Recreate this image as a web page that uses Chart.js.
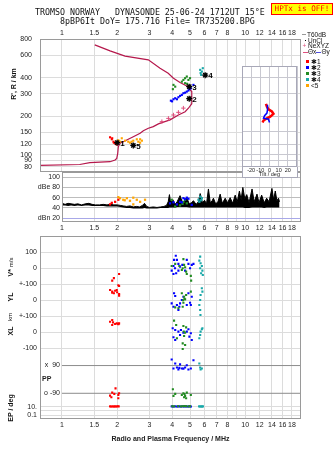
<!DOCTYPE html>
<html>
<head>
<meta charset="utf-8">
<title>Dynasonde ionogram</title>
<script src="https://cdn.jsdelivr.net/npm/chart.js@4.4.1/dist/chart.umd.min.js"></script>
<style>
  body { margin: 0; background: #fff; }
  #page { position: relative; width: 335px; height: 451px; overflow: hidden; font-family: "Liberation Sans", Arial, sans-serif; color: #111; }
  #page canvas { position: absolute; }
  .t { position: absolute; white-space: pre; line-height: 1; }
  .mono { font-family: "DejaVu Sans Mono", "Liberation Mono", monospace; font-size: 8.3px; }
  .v { position: absolute; white-space: pre; font-weight: bold; font-size: 7px; line-height: 1; transform: translate(-50%, -50%) rotate(-90deg); }
  .lg { position: absolute; font-size: 6.5px; line-height: 7px; white-space: pre; }
  .sw { position: absolute; }
  #hptx { position: absolute; left: 271px; top: 3px; width: 60px; height: 10px; border: 1px solid #f00; background: #ff0; color: #f00;
          font-family: "DejaVu Sans Mono", monospace; font-size: 7.6px; line-height: 10px; text-align: center; white-space: nowrap; }
</style>
</head>
<body>
<div id="page">
  <canvas id="rangeChart" width="335" height="173" style="left:0;top:0"></canvas>
  <canvas id="ampChart" width="335" height="62" style="left:0;top:172px"></canvas>
  <canvas id="miscChart" width="335" height="218" style="left:0;top:233px"></canvas>
  <canvas id="tiltChart" width="56" height="112" style="left:242px;top:66px"></canvas>

  <div class="t mono" style="left:35px;top:7.5px">TROMSO NORWAY   DYNASONDE 25-06-24 1712UT 15°E</div>
  <div class="t mono" style="left:60px;top:16.5px">8pBP6It DoY= 175.716 File= TR735200.BPG</div>
  <div id="hptx">HPTx is OFF!</div>

  <div class="v" style="left:12.5px;top:84px">R', R / km</div>
  <div class="v" style="left:9.5px;top:267px">V* <span style="font-size:6px;font-weight:normal">m/s</span></div>
  <div class="v" style="left:9.5px;top:297px">YL</div>
  <div class="v" style="left:9.5px;top:317px;font-size:6px;font-weight:normal">km</div>
  <div class="v" style="left:9.5px;top:331px">XL</div>
  <div class="v" style="left:9.5px;top:408px">EP / deg</div>

  <!-- legend -->
  <div class="sw" style="left:302px;top:34px;width:4px;height:1px;background:#999"></div>
  <div class="lg" style="left:307px;top:30.5px">T60dB</div>
  <div class="sw" style="left:305px;top:40px;width:1px;height:1px;background:#000"></div>
  <div class="lg" style="left:308px;top:36.5px">UnCl</div>
  <div class="lg" style="left:302.5px;top:42px;color:#e0507e">+</div>
  <div class="lg" style="left:308px;top:42px">NeXYZ</div>
  <div class="sw" style="left:302.5px;top:51.5px;width:5px;height:1px;background:#e0507e"></div>
  <div class="lg" style="left:308px;top:48px">Θx</div>
  <div class="sw" style="left:316px;top:51.5px;width:5px;height:1px;background:#5050e0"></div>
  <div class="lg" style="left:321.5px;top:48px">Θy</div>
  <div class="sw" style="left:306px;top:60px;width:3px;height:3px;background:#f00"></div>
  <div class="lg" style="left:311px;top:58px">✱1</div>
  <div class="sw" style="left:306px;top:66px;width:3px;height:3px;background:#00f"></div>
  <div class="lg" style="left:311px;top:64px">✱2</div>
  <div class="sw" style="left:306px;top:72px;width:3px;height:3px;background:#228b22"></div>
  <div class="lg" style="left:311px;top:70px">✱3</div>
  <div class="sw" style="left:306px;top:78px;width:3px;height:3px;background:#1aa8a8"></div>
  <div class="lg" style="left:311px;top:76px">✱4</div>
  <div class="sw" style="left:306px;top:84px;width:3px;height:3px;background:#ffa500"></div>
  <div class="lg" style="left:311px;top:81.5px">&lt;5</div>
</div>

<script>
// ---- frequency / height axes ----
const freqTicks = [1, 1.5, 2, 3, 4, 5, 6, 7, 8, 9, 10, 12, 14, 16, 18];
const freqLabels = ['1', '1.5', '2', '3', '4', '5', '6', '7', '8', '', '10', '12', '14', '16', '18'];
const freqLabelsAmp = ['1', '1.5', '2', '3', '4', '5', '6', '7', '8', '9', '10', '12', '14', '16', '18'];
const heightTicks = [80, 90, 100, 120, 150, 200, 300, 400, 600, 800];
const ampTicks = [20, 40, 60, 80, 100];
const ampLabels = ['dBn 20', '40', '60', 'dBe 80', '100'];
const tiltTicks = [-30, -20, -10, 0, 10, 20, 30];

// ---- true height profile (MHz, km) ----
const profileFreq = [0.76, 1.25, 1.42, 1.83, 1.95, 1.99, 2.015, 2.03, 2.075, 2.16, 2.30, 2.45, 2.67, 2.78, 2.96, 3.15, 3.36, 3.51, 3.89,
  4.32, 4.70, 4.90, 5.11, 5.11, 4.80, 4.41, 4.06, 3.80, 3.43, 2.96, 2.21, 1.83, 1.51];
const profileHeight = [82.4, 83.7, 86.5, 88.0, 90.8, 93.5, 102.3, 115.3, 122.7, 126.2, 131.8, 138, 146.8, 153.9, 160.7, 165.5, 173.8, 177.8, 187,
  204, 216.6, 230.5, 250, 311, 344, 366, 396, 433, 474, 551, 589, 648, 722];
const nexyzFreq = [3.51, 3.81, 4.06, 4.32, 4.60];
const nexyzHeight = [181, 192, 204, 214, 231];

// ---- echo ranges R' (MHz, km) ----
const rangeRed = [[1.83, 136.6], [1.87, 131.8], [1.91, 126.2], [1.95, 122.7], [1.88, 134.2], [1.92, 123.9], [1.99, 120]];
const rangeOrange = [[2.03, 129.5], [2.075, 126.2], [2.12, 134.2], [2.21, 128.5], [2.30, 126.2], [2.35, 123.9], [2.40, 126.2],
  [2.45, 128.5], [2.56, 131.8], [2.61, 126.2], [2.67, 123.9], [2.67, 131.8], [2.73, 128.5]];
const rangeBlue = [[3.93, 264], [3.99, 261], [4.06, 271], [4.15, 276], [4.24, 271], [4.32, 281], [4.41, 288], [4.51, 293], [4.60, 302],
  [4.70, 305], [4.80, 311], [4.90, 317], [4.96, 325], [5.05, 330], [5.22, 351]];
const rangeGreen = [[4.06, 351], [4.15, 340], [4.03, 325], [4.51, 372], [4.60, 384], [4.70, 396], [4.80, 408], [4.90, 384],
  [5.00, 396], [4.70, 362], [4.82, 358]];
const rangeCyan = [[5.68, 460], [5.80, 446], [5.71, 434], [5.87, 474], [5.75, 420]];
const markFreq = [2.0, 4.95, 4.95, 6.05, 2.45];
const markHeight = [124, 274, 340, 418, 118];
const markText = ['1', '2', '3', '4', '5'];

// ---- tilt (deg, km) ----
const tiltXDeg = [-3.9, -2.8, -1.1, 2.6, 4.3, 0.8, -2.8, -6.5, -7.6];
const tiltXHeight = [249, 237, 226, 217, 208, 198, 192, 184.5, 178];
const tiltYDeg = [-2.2, -2.2, -2.8, -5.4, -6.5, -1.1, 0];
const tiltYHeight = [245, 223, 211, 201, 192, 189, 178];

// ---- amplitude panel (MHz, dB) ----
const noiseFreq = [1.00, 1.04, 1.08, 1.12, 1.17, 1.22, 1.28, 1.34, 1.40, 1.46, 1.52, 1.60, 1.68, 1.76, 1.84, 1.92, 2.00, 2.08, 2.16, 2.25,
  2.35, 2.45, 2.55, 2.65, 2.75, 2.82, 2.90, 3.00, 3.15, 3.30, 3.45, 3.60, 3.72, 3.80, 3.86, 3.92, 4.03, 4.14, 4.25, 4.41, 4.55, 4.68,
  4.80, 4.95, 5.08, 5.22, 5.40, 5.55, 5.68, 5.85, 6.00, 6.15, 6.30, 6.45, 6.60, 6.71, 6.90, 7.10, 7.30, 7.50, 7.78, 8.00, 8.28, 8.55,
  8.82, 9.05, 9.30, 9.50, 9.71, 9.95, 10.2, 10.5, 10.9, 11.2, 11.6, 11.9, 12.3, 12.7, 13.1, 13.5, 14.0, 14.3, 14.6, 14.9, 15.2, 15.4];
const noiseHigh = [49, 47, 49, 48, 47, 48, 46, 48, 49, 47, 46, 46, 47, 46, 47, 46, 46, 45, 44, 43,
  44, 42, 43, 42, 45, 49, 43, 41, 42, 41, 42, 43, 45, 52, 66, 50, 56, 47, 52, 64, 50, 55,
  60, 48, 50, 54, 47, 52, 68, 50, 55, 48, 77, 50, 54, 59, 48, 52, 67, 49, 59, 50, 60, 49,
  65, 52, 73, 56, 80, 58, 66, 50, 77, 52, 67, 50, 65, 50, 59, 52, 78, 56, 73, 54, 59, 52];
const noiseLow = [45, 45, 44, 45, 44, 45, 44, 45, 45, 44, 44, 44, 44, 43, 43, 43, 43, 42, 41, 40,
  40, 39, 39, 39, 39, 40, 39, 39, 39, 39, 40, 40, 40, 40, 41, 41, 41, 41, 42, 42, 42, 42,
  42, 41, 41, 41, 41, 41, 41, 41, 41, 41, 41, 41, 41, 41, 41, 41, 41, 41, 41, 41, 41, 41,
  41, 41, 41, 41, 41, 40, 40, 40, 41, 41, 41, 41, 41, 40, 41, 41, 41, 41, 41, 41, 41, 41];
const ampRed = [[1.83, 47], [1.87, 50], [1.95, 52], [2.03, 56]];
const ampOrange = [[2.03, 61], [2.075, 59], [2.16, 56], [2.20, 55], [2.26, 59], [2.35, 54], [2.45, 60], [2.45, 47], [2.56, 56], [2.67, 52], [2.84, 56]];
const ampBlue = [[3.89, 49], [4.06, 51], [4.24, 47], [4.41, 52], [4.51, 51], [4.60, 59], [4.70, 57], [4.80, 60], [4.90, 58], [5.11, 46]];
const ampGreen = [[3.97, 56], [4.15, 43], [4.41, 45], [4.55, 48], [4.60, 52], [4.70, 56], [4.80, 49]];
const ampCyan = [[5.56, 56], [5.62, 52], [5.68, 62], [5.75, 55], [5.80, 59]];

// ---- lower panel: V* (m/s), YL / XL (km), PP (deg), EP (deg) ----
const vRed = [[2.05, -36], [1.92, -62], [1.88, -77]];
const ylRed = [[2.03, 95], [2.05, 89], [1.83, 64], [1.88, 48], [1.95, 60], [1.99, 64], [2.00, 50], [2.05, 39], [2.05, 29], [1.92, 44], [1.88, 54]];
const xlRed = [[1.88, 77], [1.83, 66], [1.90, 62], [1.99, 56], [2.03, 50], [1.95, 52], [2.05, 56], [1.88, 46], [2.03, 53]];
const ppRed = [[1.96, -58], [1.88, -86], [1.83, -105], [2.03, -101], [1.93, -94], [1.86, -116], [2.03, -122], [2.05, -90]];
const epRed = [[1.83, 12], [1.86, 11], [1.89, 12], [1.92, 11], [1.95, 12], [1.98, 11], [2.01, 13], [2.04, 12]];

const vBlue = [[4.18, 77], [4.09, 52], [4.06, 14], [3.97, -15], [4.14, 0], [4.32, 27], [4.41, 10], [4.54, 21], [4.80, 52], [4.90, 27],
  [5.00, 0], [5.11, 21], [5.22, 27], [4.70, -15], [4.32, -15], [4.24, 52], [4.20, -31], [4.06, -36]];
const ylBlue = [[4.09, 44], [4.15, 27], [3.97, -19], [4.06, -40], [4.24, -29], [4.32, -61], [4.37, -40], [4.51, 2], [4.60, 22], [4.90, 44],
  [5.00, -15], [5.05, -29], [4.80, -29], [5.11, 22], [4.41, -19]];
const xlBlue = [[4.02, 25], [4.15, 14], [4.32, 4], [4.46, 14], [4.60, -2], [4.80, 4], [4.90, 19], [5.05, -6], [4.96, -27], [4.15, -48],
  [4.06, -31], [4.41, -17], [5.11, -48]];
const ppBlue = [[3.97, 129], [4.15, 103], [4.06, 71], [4.24, 77], [4.32, 64], [4.51, 71], [4.70, 77], [4.90, 64], [5.05, 71], [5.22, 124],
  [4.41, 98], [4.80, 92], [4.60, 70], [4.37, 75]];
const epBlue = [[3.97, 12], [4.05, 11], [4.15, 12], [4.25, 11], [4.35, 12], [4.45, 11], [4.55, 12], [4.65, 11], [4.75, 12], [4.85, 11], [4.95, 12], [5.05, 11]];

const vGreen = [[3.97, 14], [4.60, 56], [4.64, 21], [4.56, 0], [4.70, 6], [4.51, -11], [4.76, -21], [4.80, -36], [5.05, -48], [5.07, -77], [4.15, 27], [4.37, 14]];
const ylGreen = [[4.51, 44], [4.64, 22], [4.70, 6], [4.60, -15], [4.56, -40], [4.15, -44], [4.32, -50], [4.76, 33], [5.05, 54], [4.66, 10], [4.58, 0]];
const xlGreen = [[4.09, 73], [4.20, 46], [4.60, 39], [4.70, -2], [4.64, -23], [4.56, -69], [4.70, -79], [4.56, -104], [4.76, 31], [4.24, -37], [4.62, 5]];
const ppGreen = [[4.03, -64], [4.15, -94], [4.06, -107], [4.60, -90], [4.70, -107], [4.51, -101], [4.80, -86], [5.05, -101], [4.64, -116], [4.76, -122], [4.66, -95]];
const epGreen = [[4.00, 13], [4.10, 12], [4.30, 13], [4.45, 12], [4.55, 13], [4.65, 14], [4.75, 13], [4.90, 12], [5.00, 13]];

const vCyan = [[5.62, 47], [5.71, 31], [5.80, 14], [5.68, 0], [5.84, -15], [5.75, -31], [5.87, -42], [5.68, 72]];
const ylCyan = [[5.80, 75], [5.84, 54], [5.71, 33], [5.68, 2], [5.62, -29], [5.68, -61], [5.70, -92]];
const xlCyan = [[5.80, 19], [5.71, 4], [5.68, -17], [5.62, -37], [5.84, 25]];
const ppCyan = [[5.62, 103], [5.68, 77], [5.80, 71], [5.71, 64]];
const epCyan = [[5.60, 12], [5.68, 11], [5.75, 12], [5.82, 11], [5.88, 12]];

const ppLines = [90, -90];

// ---- colours ----
const RED = '#ff0000', BLUE = '#0000ff', GREEN = '#228b22', CYAN = '#1aa8a8', ORANGE = '#ffa500';
const GRID = '#dcdcdc', FRAME = '#9a9a9a';
const FONT = '"Liberation Sans", Arial, sans-serif';

Chart.defaults.font.family = FONT;
Chart.defaults.font.size = 7;
Chart.defaults.color = '#222';
Chart.defaults.animation = false;
Chart.defaults.layout.autoPadding = false;
Chart.defaults.plugins.legend.display = false;
Chart.defaults.plugins.tooltip.enabled = false;

function xy(pairs) {
  return pairs.map(p => ({ x: p[0], y: p[1] }));
}
function zipXY(xs, ys) {
  return xs.map((x, i) => ({ x: x, y: ys[i] }));
}
function dots(pairs, color, axis, r) {
  return {
    data: xy(pairs), showLine: false, yAxisID: axis,
    pointStyle: 'rect', pointRadius: r || 1.5, pointBorderWidth: 0,
    pointBackgroundColor: color, borderColor: color
  };
}

// fixed axis thickness, and no extra room reserved for the end labels
function pinWidth(w) {
  return s => { s.width = w; s.paddingTop = 0; s.paddingBottom = 0; s.paddingLeft = 0; s.paddingRight = 0; };
}
function pinHeight(h) {
  return s => { s.height = h; s.paddingTop = 0; s.paddingBottom = 0; s.paddingLeft = 0; s.paddingRight = 0; };
}

// outline round the plot area
const frame = {
  id: 'frame',
  afterDraw(chart, args, opts) {
    const a = chart.chartArea, ctx = chart.ctx;
    ctx.save();
    ctx.strokeStyle = opts.color || FRAME;
    ctx.lineWidth = 1;
    ctx.strokeRect(Math.round(a.left) + 0.5, Math.round(a.top) + 0.5, Math.round(a.right - a.left) - 1, Math.round(a.bottom - a.top) - 1);
    ctx.restore();
  }
};

// numbers next to the leading-edge marks
const markNumbers = {
  id: 'markNumbers',
  afterDatasetsDraw(chart) {
    const ctx = chart.ctx, x = chart.scales.x, y = chart.scales.y;
    ctx.save();
    ctx.font = 'bold 8px ' + FONT;
    ctx.fillStyle = '#000';
    ctx.textBaseline = 'middle';
    markFreq.forEach((f, i) => {
      ctx.fillText(markText[i], x.getPixelForValue(f) + 3, y.getPixelForValue(markHeight[i]) + 1);
    });
    ctx.restore();
  }
};

// labels of the polarisation strip
const ppLabels = {
  id: 'ppLabels',
  afterDraw(chart) {
    const ctx = chart.ctx, s = chart.scales.yP;
    ctx.save();
    ctx.font = '7px ' + FONT;
    ctx.fillStyle = '#222';
    ctx.textBaseline = 'middle';
    ctx.textAlign = 'right';
    ctx.fillText('x  90', 60, s.getPixelForValue(90));
    ctx.fillText('o -90', 60, s.getPixelForValue(-90));
    ctx.textAlign = 'left';
    ctx.font = 'bold 7px ' + FONT;
    ctx.fillText('PP', 42, s.getPixelForValue(2));
    ctx.restore();
  }
};

// white card behind the tilt inset
const insetCard = {
  id: 'insetCard',
  beforeDraw(chart) {
    const ctx = chart.ctx;
    ctx.save();
    ctx.fillStyle = '#fff';
    ctx.fillRect(0, 0, chart.width, chart.height);
    ctx.strokeStyle = '#a8a8b8';
    ctx.strokeRect(0.5, 0.5, chart.width - 1, chart.height - 1);
    ctx.restore();
  }
};

function freqAxis(position, min, labels, height) {
  return {
    type: 'logarithmic', position: position, min: min, max: 20.17,
    afterBuildTicks: s => { s.ticks = freqTicks.map(v => ({ value: v })); },
    afterFit: pinHeight(height),
    ticks: { autoSkip: false, maxRotation: 0, minRotation: 0, padding: 2, callback: (v, i) => labels[i] },
    grid: { color: GRID, drawTicks: false },
    border: { display: false }
  };
}

// ---- range panel ----
new Chart(document.getElementById('rangeChart'), {
  type: 'line',
  data: {
    datasets: [
      {
        data: zipXY(markFreq, markHeight), showLine: false, pointStyle: 'star', pointRadius: 3,
        pointBorderWidth: 1.3, pointBorderColor: '#000', pointBackgroundColor: '#000'
      },
      dots(rangeRed, RED, 'y'),
      dots(rangeOrange, ORANGE, 'y'),
      dots(rangeCyan, CYAN, 'y'),
      dots(rangeGreen, GREEN, 'y'),
      dots(rangeBlue, BLUE, 'y'),
      {
        data: zipXY(nexyzFreq, nexyzHeight), showLine: false, pointStyle: 'cross', pointRadius: 2.2,
        pointBorderWidth: 1, pointBorderColor: '#e0507e'
      },
      {
        data: zipXY(profileFreq, profileHeight), borderColor: '#b5174b', borderWidth: 1.2,
        pointRadius: 0, tension: 0, fill: false
      }
    ]
  },
  options: {
    responsive: false, devicePixelRatio: 1,
    layout: { padding: { left: 0, right: 34, top: 0, bottom: 1 } },
    plugins: { frame: { color: FRAME } },
    scales: {
      x: freqAxis('top', 0.7585, freqLabels, 39),
      y: {
        type: 'logarithmic', min: 73.1, max: 802,
        afterBuildTicks: s => { s.ticks = heightTicks.map(v => ({ value: v })); },
        afterFit: pinWidth(40),
        ticks: { padding: 8, autoSkip: false, callback: v => String(v) },
        grid: { color: GRID, drawTicks: false },
        border: { display: false }
      }
    }
  },
  plugins: [frame, markNumbers]
});

// ---- amplitude panel ----
new Chart(document.getElementById('ampChart'), {
  type: 'line',
  data: {
    datasets: [
      dots(ampRed, RED, 'y', 1.6),
      dots(ampOrange, ORANGE, 'y', 1.6),
      dots(ampCyan, CYAN, 'y', 1.6),
      dots(ampBlue, BLUE, 'y', 1.6),
      dots(ampGreen, GREEN, 'y', 1.6),
      { data: zipXY(noiseFreq, noiseLow), borderWidth: 0, pointRadius: 0, fill: false, borderColor: '#000' },
      {
        data: zipXY(noiseFreq, noiseHigh), borderColor: '#000', borderWidth: 1, pointRadius: 0,
        fill: '-1', backgroundColor: '#000'
      }
    ]
  },
  options: {
    responsive: false, devicePixelRatio: 1,
    layout: { padding: { left: 0, right: 34, top: 0, bottom: 0 } },
    plugins: { frame: { color: FRAME } },
    scales: {
      x: freqAxis('bottom', 1, freqLabelsAmp, 12),
      y: {
        type: 'linear', min: 12.7, max: 110,
        afterBuildTicks: s => { s.ticks = ampTicks.map(v => ({ value: v })); },
        afterFit: pinWidth(62),
        ticks: { padding: 2, autoSkip: false, callback: (v, i) => ampLabels[i] },
        grid: { color: c => (c.tick && c.tick.value === 20 ? '#a8a8e8' : '#bdbdbd'), drawTicks: false },
        border: { display: false }
      }
    }
  },
  plugins: [frame]
});

// ---- velocity / location / polarisation panel ----
function strip(min, max, weight, order, tickVals, labelFn) {
  return {
    type: 'linear', position: 'left', stack: 'misc', stackWeight: weight, weight: order,
    min: min, max: max,
    afterBuildTicks: s => { s.ticks = tickVals.map(v => ({ value: v })); },
    afterFit: pinWidth(40),
    ticks: { padding: 3, autoSkip: false, callback: labelFn },
    grid: { color: GRID, drawTicks: false },
    border: { display: false }
  };
}

const miscSets = [
  dots(vRed, RED, 'yV'), dots(ylRed, RED, 'yY'), dots(xlRed, RED, 'yX'), dots(ppRed, RED, 'yP'), dots(epRed, RED, 'yE'),
  dots(vCyan, CYAN, 'yV'), dots(ylCyan, CYAN, 'yY'), dots(xlCyan, CYAN, 'yX'), dots(ppCyan, CYAN, 'yP'), dots(epCyan, CYAN, 'yE'),
  dots(vGreen, GREEN, 'yV'), dots(ylGreen, GREEN, 'yY'), dots(xlGreen, GREEN, 'yX'), dots(ppGreen, GREEN, 'yP'), dots(epGreen, GREEN, 'yE'),
  dots(vBlue, BLUE, 'yV'), dots(ylBlue, BLUE, 'yY'), dots(xlBlue, BLUE, 'yX'), dots(ppBlue, BLUE, 'yP'), dots(epBlue, BLUE, 'yE')
];
ppLines.forEach(v => {
  miscSets.push({ data: [{ x: 1, y: v }, { x: 20.17, y: v }], yAxisID: 'yP', borderColor: '#8c8c8c', borderWidth: 1, pointRadius: 0 });
});

new Chart(document.getElementById('miscChart'), {
  type: 'line',
  data: { datasets: miscSets },
  options: {
    responsive: false, devicePixelRatio: 1,
    layout: { padding: { left: 0, right: 34, top: 3, bottom: 0 } },
    plugins: { frame: { color: FRAME } },
    scales: {
      x: Object.assign(freqAxis('bottom', 0.7585, freqLabels, 32), {
        title: { display: true, text: 'Radio and Plasma Frequency / MHz', font: { size: 7, weight: 'bold' }, padding: { top: 0, bottom: 8 } }
      }),
      yV: strip(-100, 200, 48.3, 5, [-100, 0, 100], v => (v === -100 ? '+-100' : String(v))),
      yY: strip(-100, 100, 32, 4, [-100, 0], v => (v === -100 ? '+-100' : '0')),
      yX: strip(-150, 100, 40, 3, [-100, 0], v => String(v)),
      yP: {
        type: 'linear', position: 'left', stack: 'misc', stackWeight: 44.7, weight: 2, min: -140, max: 150,
        afterFit: pinWidth(40),
        ticks: { display: false }, grid: { display: false }, border: { display: false }
      },
      yE: {
        type: 'logarithmic', position: 'left', stack: 'misc', stackWeight: 18, weight: 1, min: 0.011, max: 236,
        afterBuildTicks: s => { s.ticks = [0.1, 1, 10].map(v => ({ value: v })); },
        afterFit: pinWidth(40),
        ticks: { padding: 3, autoSkip: false, callback: v => (v === 10 ? '10.' : v === 0.1 ? '0.1' : '') },
        grid: { color: GRID, drawTicks: false },
        border: { display: false }
      }
    }
  },
  plugins: [frame, ppLabels]
});

// ---- tilt inset ----
new Chart(document.getElementById('tiltChart'), {
  type: 'line',
  data: {
    datasets: [
      { data: zipXY(tiltYDeg, tiltYHeight), borderColor: BLUE, borderWidth: 1.5, pointRadius: 0 },
      { data: zipXY(tiltXDeg, tiltXHeight), borderColor: RED, borderWidth: 2.5, pointRadius: 0 }
    ]
  },
  options: {
    responsive: false, devicePixelRatio: 1,
    layout: { padding: { left: 0, right: 1, top: 0, bottom: 0 } },
    plugins: { frame: { color: '#a8a8b8' } },
    scales: {
      x: {
        type: 'linear', min: -30, max: 30,
        afterBuildTicks: s => { s.ticks = tiltTicks.map(v => ({ value: v })); },
        afterFit: pinHeight(11),
        ticks: { font: { size: 5.5 }, padding: 0, autoSkip: false, maxRotation: 0, callback: v => (Math.abs(v) === 30 ? '' : String(v)) },
        title: { display: true, text: 'Tilt / deg', font: { size: 5.5 }, padding: 0 },
        grid: { color: '#c8c8d0', drawTicks: false },
        border: { display: false }
      },
      y: {
        type: 'logarithmic', min: 79.6, max: 494,
        afterBuildTicks: s => { s.ticks = heightTicks.filter(v => v < 494).map(v => ({ value: v })); },
        afterFit: pinWidth(0),
        ticks: { display: false },
        grid: { color: '#c8c8d0', drawTicks: false },
        border: { display: false }
      }
    }
  },
  plugins: [insetCard, frame]
});
</script>
</body>
</html>
